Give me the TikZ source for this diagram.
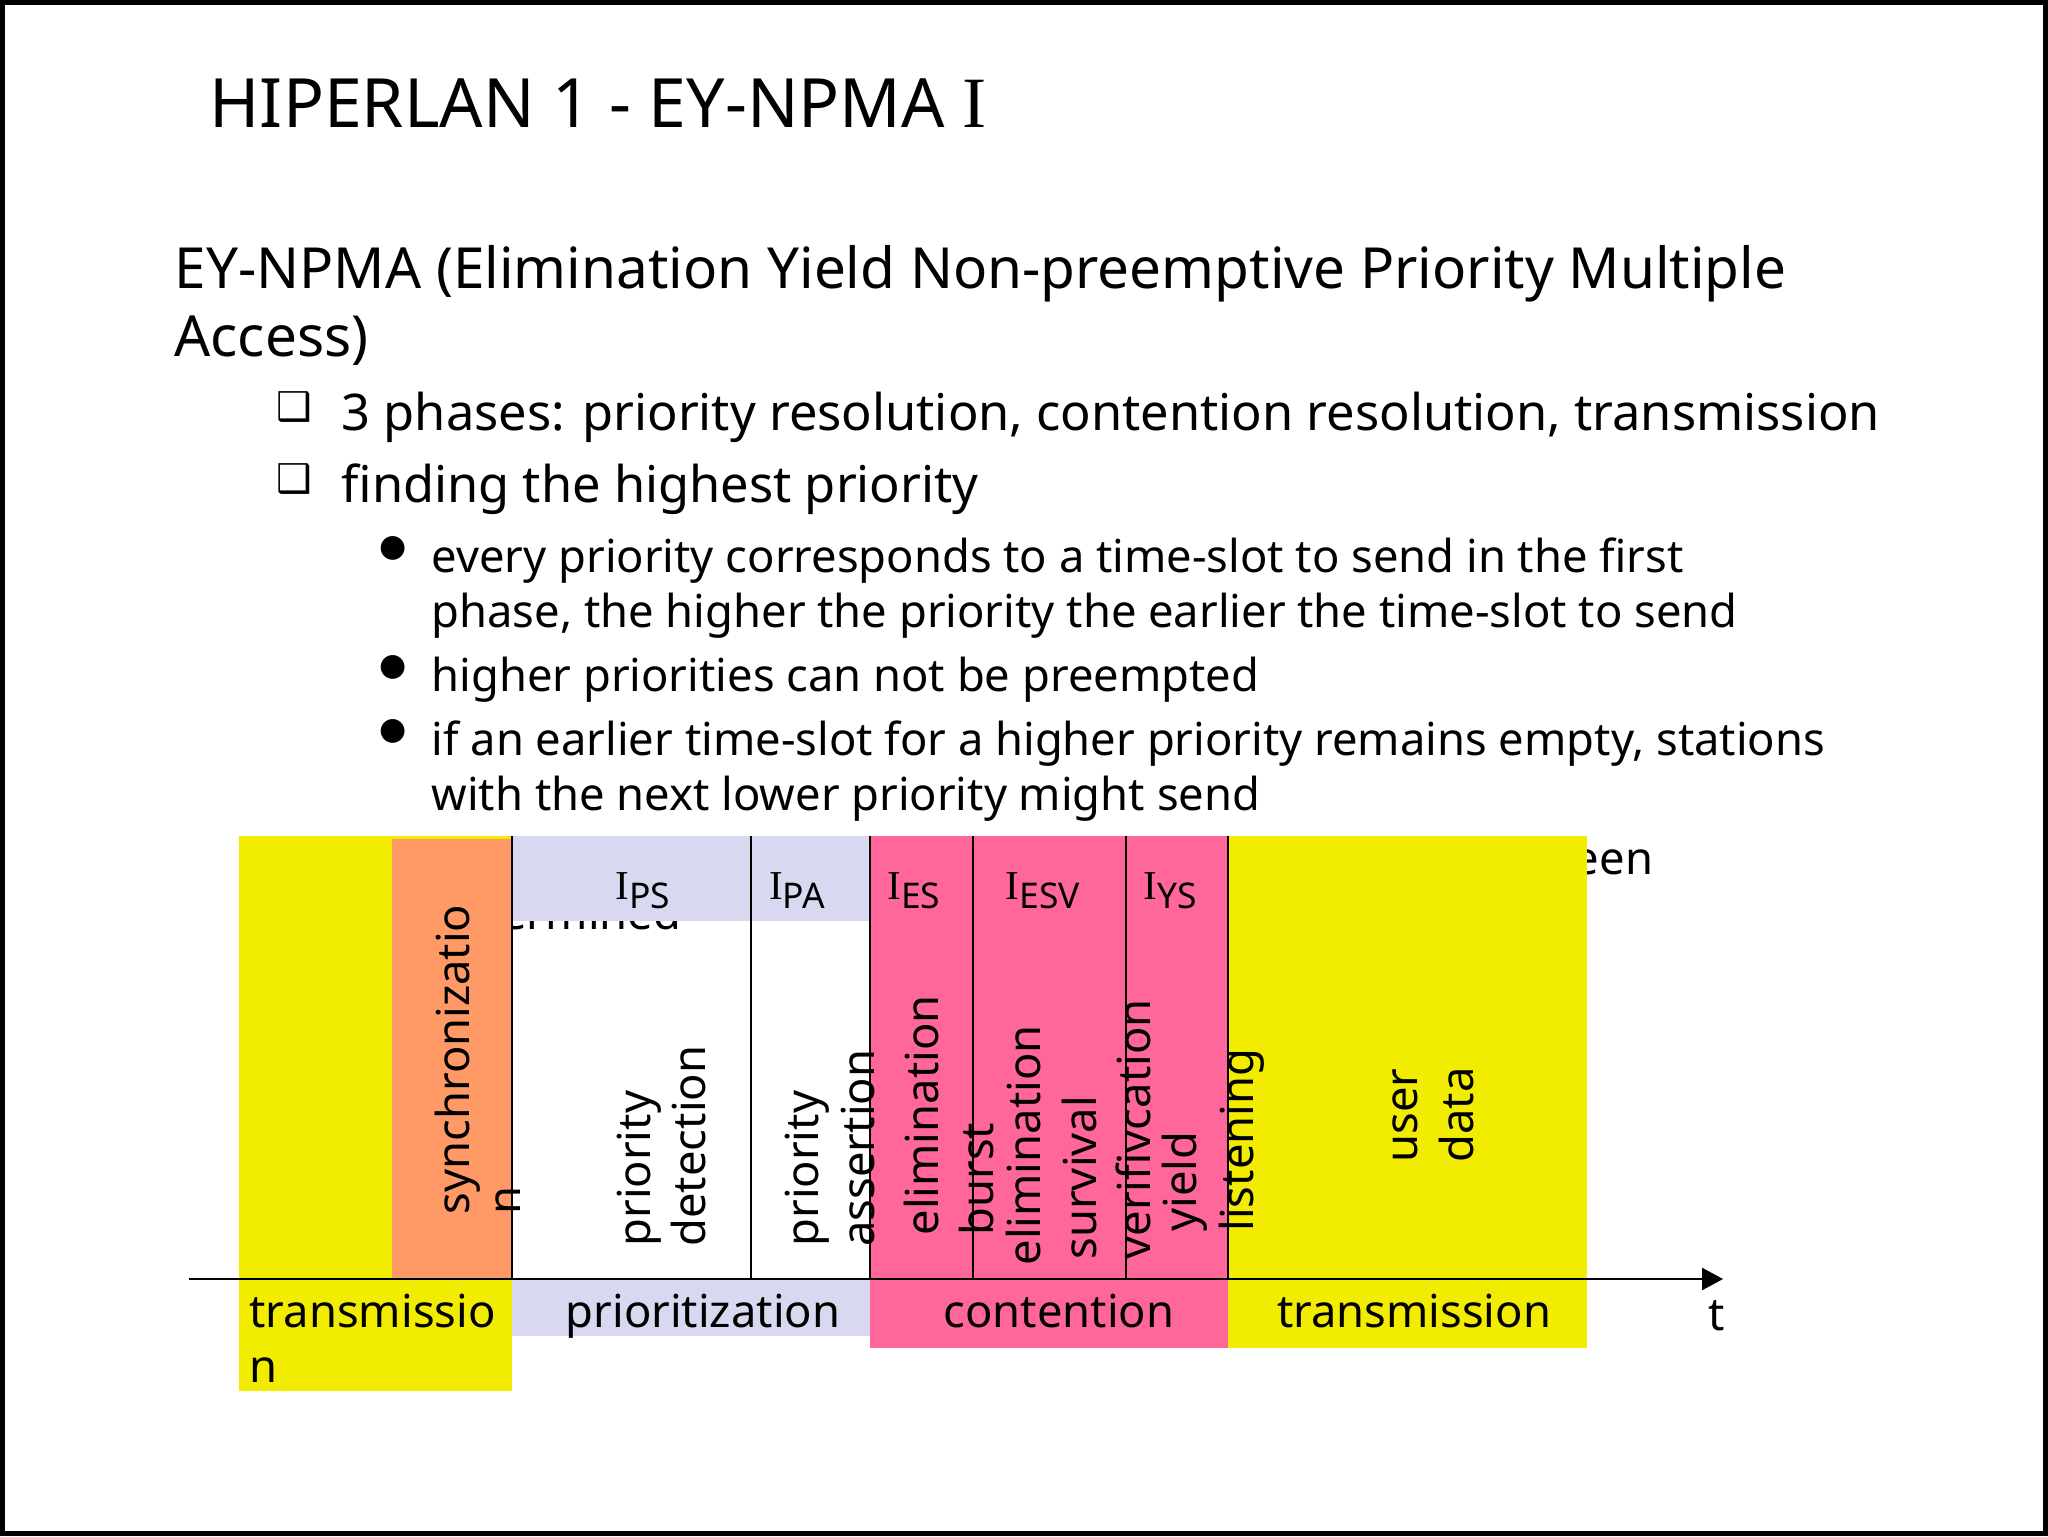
\documentclass[tikz,border=0pt]{standalone}
\usepackage{fontspec}
\setmainfont{Noto Sans}
\newfontfamily\ifont{Liberation Serif}
\newfontfamily\symfont{DejaVu Sans}
\usetikzlibrary{arrows.meta}

\definecolor{slotyellow}{RGB}{242,236,0}
\definecolor{syncorange}{RGB}{255,153,102}
\definecolor{prioblue}{RGB}{216,216,240}
\definecolor{contpink}{RGB}{255,102,153}

\newcommand{\Islot}[1]{{\fontsize{14.5}{16}\ifont I}\raisebox{-3.2pt}{\fontsize{12.5}{14}\selectfont #1}}

\begin{document}
\begin{tikzpicture}[x=0.0124023cm, y=-0.0124023cm,
    txt/.style={anchor=base west, inner sep=0pt},
    vlabel/.style={rotate=90, anchor=base west, inner sep=0pt, font=\fontsize{16}{19.2}\selectfont},
    hlabel/.style={anchor=base, inner sep=0pt, font=\fontsize{16}{19.2}\selectfont},
    slotline/.style={line width=0.7pt}]

    \useasboundingbox (0,0) rectangle (2048,1536);
    \draw [line width=1.76pt] (2.5,2.5) rectangle (2045.5,1533.5);

    % slide text
    \node [txt, font=\fontsize{24}{28.8}\selectfont] (title) at (209,127) {HIPERLAN 1 - EY-NPMA {\ifont\fontsize{25.5}{28}\selectfont I}};
    \node [txt, font=\fontsize{20}{24}\selectfont] (intro) at (174,288) {EY-NPMA (Elimination Yield Non-preemptive Priority Multiple};
    \node [txt, font=\fontsize{20}{24}\selectfont] (introb) at (174,356) {Access)};

    \foreach \n/\y/\t in {a/430/{3 phases: priority resolution, contention resolution, transmission},
                          b/502/{finding the highest priority}}{
        \node [txt, font=\fontsize{17.85}{21.4}\selectfont] (phase\n) at (341,\y) {\t};
        \node [inner sep=0pt, font=\symfont\fontsize{14}{14}\selectfont] (box\n) at (294,\y-23) {❑};
    }

    \foreach \n/\y/\t in {a/572/{every priority corresponds to a time-slot to send in the first},
                          b/627/{phase, the higher the priority the earlier the time-slot to send},
                          c/691/{higher priorities can not be preempted},
                          d/755/{if an earlier time-slot for a higher priority remains empty, stations},
                          e/810/{with the next lower priority might send},
                          f/874/{after this first phase the highest current priority has been},
                          g/929/{determined}}
        \node [txt, font=\fontsize{16}{19.2}\selectfont] (item\n) at (431,\y) {\t};
    \foreach \n/\y in {a/572, c/691, d/755, f/874}
        \node [inner sep=0pt, font=\symfont\fontsize{11}{11}\selectfont] (dot\n) at (393.5,\y-24) {●};

    % time slots
    \foreach \n/\x in {a/239, b/392, c/512, d/751, e/870, f/973, g/1126, h/1228, k/1587}{
        \coordinate (top\n) at (\x,836);
        \coordinate (ax\n)  at (\x,1279);
    }

    \fill [slotyellow] (topa) rectangle (512,1391);
    \fill [syncorange] (392,839) rectangle (axc);
    \fill [prioblue] (topc) rectangle (870,921);
    \fill [prioblue] (axc) rectangle (870,1336);
    \fill [contpink] (tope) rectangle (1228,1348);
    \fill [slotyellow] (toph) rectangle (1587,1348);

    \foreach \n in {c,d,e,f,g,h} \draw [slotline] (top\n) -- (ax\n);

    \coordinate (start) at (189,1279);
    \coordinate (end) at (1723,1279);
    \draw [slotline, -{Triangle[length=7.4pt, width=7.8pt]}] (start) -- (end);

    \node [anchor=base, inner sep=0pt] (ips)  at (643,899)  {\Islot{PS}};
    \node [anchor=base, inner sep=0pt] (ipa)  at (797,899)  {\Islot{PA}};
    \node [anchor=base, inner sep=0pt] (ies)  at (914,899)  {\Islot{ES}};
    \node [anchor=base, inner sep=0pt] (iesv) at (1043,899) {\Islot{ESV}};
    \node [anchor=base, inner sep=0pt] (iys)  at (1170,899) {\Islot{YS}};

    \foreach \n/\x/\y/\t in {sync/469/1215/synchronizatio, syncb/520/1215/n,
                             pdet/650/1247/priority, pdetb/705/1247/detection,
                             pass/818/1247/priority, passb/874/1247/assertion,
                             elim/938/1236/elimination, elimb/993/1236/burst,
                             surv/1040/1266/elimination, survb/1096/1260/survival, survc/1150/1260/verifivcation,
                             yield/1196/1232/yield, yieldb/1253/1232/listening,
                             user/1417/1163/user, userb/1473/1163/data}
        \node [vlabel] (\n) at (\x,\y) {\t};

    \node [txt, font=\fontsize{16}{19.2}\selectfont] (trans) at (249,1327) {transmissio};
    \node [txt, font=\fontsize{16}{19.2}\selectfont] (transb) at (249,1382) {n};
    \node [hlabel] (prio) at (703,1327) {prioritization};
    \node [hlabel] (cont) at (1059,1327) {contention};
    \node [hlabel] (data) at (1414,1327) {transmission};
    \node [txt, font=\fontsize{16}{19.2}\selectfont] (tlabel) at (1708,1330) {t};
\end{tikzpicture}
\end{document}
